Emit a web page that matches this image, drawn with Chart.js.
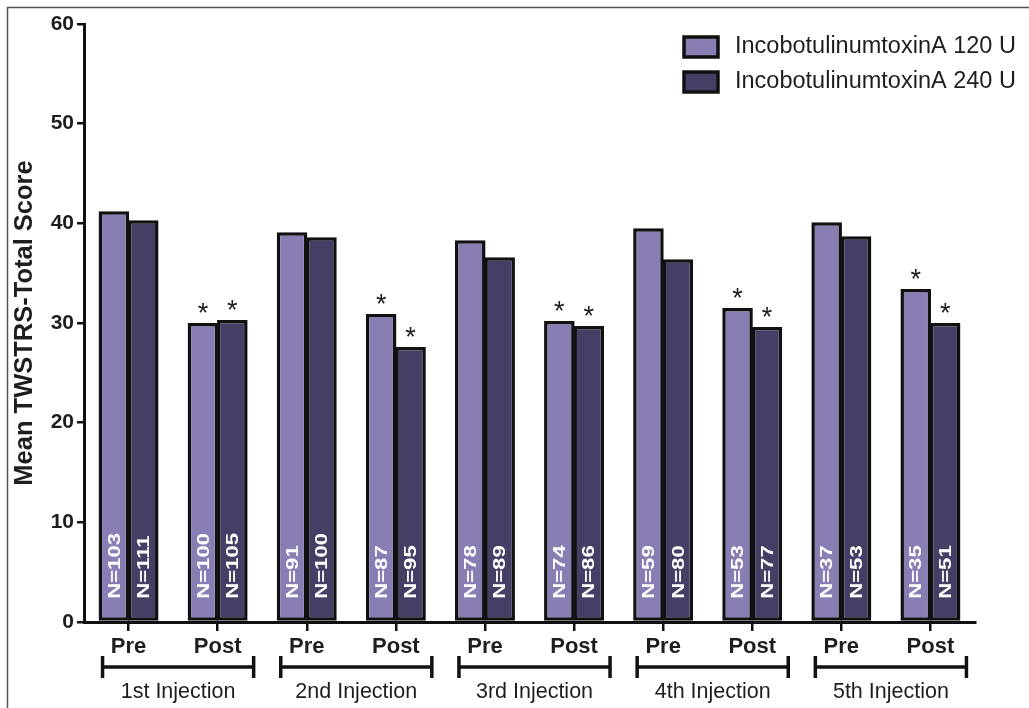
<!DOCTYPE html>
<html>
<head>
<meta charset="utf-8">
<script src="https://cdn.jsdelivr.net/npm/chart.js@4.4.1/dist/chart.umd.min.js"></script>
<style>
  html, body { margin: 0; padding: 0; background: #fff; }
  #wrap { width: 1029px; height: 708px; position: relative; }
</style>
</head>
<body>
<div id="wrap"><canvas id="chart"></canvas></div>
<script>
// Chart values
const timepoints = ['Pre', 'Post', 'Pre', 'Post', 'Pre', 'Post', 'Pre', 'Post', 'Pre', 'Post'];
const injections = ['1st Injection', '2nd Injection', '3rd Injection', '4th Injection', '5th Injection'];
const seriesNames = ['IncobotulinumtoxinA 120 U', 'IncobotulinumtoxinA 240 U'];
const score120 = [41.2, 30.0, 39.1, 30.9, 38.3, 30.2, 39.5, 31.5, 40.1, 33.4];
const score240 = [40.3, 30.3, 38.6, 27.6, 36.6, 29.7, 36.4, 29.6, 38.7, 30.0];
const n120 = [103, 100, 91, 87, 78, 74, 59, 53, 37, 35];
const n240 = [111, 105, 100, 95, 89, 86, 80, 77, 53, 51];
const signif120 = [false, true, false, true, false, true, false, true, false, true];
const signif240 = [false, true, false, true, false, true, false, true, false, true];
const yTicks = [0, 10, 20, 30, 40, 50, 60];

const lightColor = '#8a7db4';
const darkColor = '#463e64';
const inkColor = '#1e1e1e';
const fontFamily = '"Liberation Sans", Arial, sans-serif';

// Draws the N counts, asterisks, injection brackets, legend and image frame
const annotations = {
  id: 'annotations',
  afterDatasetsDraw(chart) {
    const { ctx } = chart;
    const counts = [n120, n240];
    const stars = [signif120, signif240];
    ctx.save();
    [0, 1].forEach((d) => {
      chart.getDatasetMeta(d).data.forEach((bar, i) => {
        // N label, rotated, inside the bar
        ctx.save();
        ctx.translate(bar.x, bar.base - 22);
        ctx.rotate(-Math.PI / 2);
        ctx.scale(1.3, 1);
        ctx.fillStyle = '#fff';
        ctx.font = 'bold 17px ' + fontFamily;
        ctx.textAlign = 'left';
        ctx.textBaseline = 'middle';
        ctx.fillText('N=' + counts[d][i], 0, 1);
        ctx.restore();
        // significance marker
        if (stars[d][i]) {
          ctx.fillStyle = inkColor;
          ctx.font = '27px ' + fontFamily;
          ctx.textAlign = 'center';
          ctx.textBaseline = 'alphabetic';
          ctx.fillText('*', bar.x, bar.y - 1);
        }
      });
    });
    ctx.restore();
  },
  afterDraw(chart) {
    const { ctx } = chart;
    const x = chart.scales.x;
    ctx.save();
    ctx.strokeStyle = '#111';
    ctx.lineWidth = 3.5;
    ctx.lineCap = 'butt';
    injections.forEach((name, g) => {
      const x0 = x.getPixelForValue(g * 2) - 26;
      const x1 = x.getPixelForValue(g * 2 + 1) + 36;
      ctx.beginPath();
      ctx.moveTo(x0, 667);
      ctx.lineTo(x1, 667);
      ctx.moveTo(x0, 656);
      ctx.lineTo(x0, 678);
      ctx.moveTo(x1, 656);
      ctx.lineTo(x1, 678);
      ctx.stroke();
      ctx.fillStyle = inkColor;
      ctx.font = '21.5px ' + fontFamily;
      ctx.textAlign = 'center';
      ctx.textBaseline = 'middle';
      ctx.fillText(name, (x0 + x1) / 2, 692);
    });

    // legend in the upper right corner
    const colors = [lightColor, darkColor];
    seriesNames.forEach((label, i) => {
      const top = 37 + i * 35;
      ctx.fillStyle = colors[i];
      ctx.fillRect(684, top, 34, 20);
      ctx.strokeStyle = '#111';
      ctx.lineWidth = 3.5;
      ctx.strokeRect(684, top, 34, 20);
      ctx.fillStyle = inkColor;
      ctx.font = '23.5px ' + fontFamily;
      ctx.textAlign = 'left';
      ctx.textBaseline = 'middle';
      ctx.fillText(label, 735, top + 10);
    });

    // frame of the original figure
    ctx.strokeStyle = '#555';
    ctx.lineWidth = 1.5;
    ctx.beginPath();
    ctx.moveTo(7.5, 708);
    ctx.lineTo(7.5, 7.5);
    ctx.lineTo(1029, 7.5);
    ctx.stroke();
    ctx.restore();
  },
};

const chart = new Chart(document.getElementById('chart'), {
  type: 'bar',
  data: {
    labels: timepoints,
    datasets: [
      {
        label: seriesNames[0],
        data: score120,
        backgroundColor: lightColor,
        borderColor: '#111',
        borderWidth: 3.5,
        borderSkipped: false,
      },
      {
        label: seriesNames[1],
        data: score240,
        backgroundColor: darkColor,
        borderColor: '#111',
        borderWidth: 3.5,
        borderSkipped: false,
      },
    ],
  },
  options: {
    responsive: true,
    maintainAspectRatio: false,
    animation: false,
    datasets: { bar: { categoryPercentage: 0.66, barPercentage: 1.04 } },
    layout: { padding: { left: 0, right: 54, top: 24, bottom: 0 } },
    plugins: {
      legend: { display: false },
      tooltip: { enabled: false },
    },
    scales: {
      x: {
        grid: { offset: false, drawOnChartArea: false, drawTicks: true, tickLength: 9, color: '#111', lineWidth: 2.5 },
        border: { color: '#111', width: 3 },
        ticks: {
          color: inkColor,
          padding: 3,
          maxRotation: 0,
          font: { family: fontFamily, size: 22, weight: 'bold' },
        },
        afterFit(scale) { scale.height = 86; },
      },
      y: {
        min: 0,
        max: 60,
        afterBuildTicks(scale) { scale.ticks = yTicks.map((v) => ({ value: v })); },
        grid: { drawOnChartArea: false, drawTicks: true, tickLength: 7, color: '#111', lineWidth: 2.5 },
        border: { color: '#111', width: 3 },
        ticks: {
          color: inkColor,
          padding: 3,
          font: { family: fontFamily, size: 21, weight: 'bold' },
        },
        title: {
          display: true,
          text: 'Mean TWSTRS-Total Score',
          color: inkColor,
          padding: { top: 10, bottom: 0 },
          font: { family: fontFamily, size: 25.5, weight: 'bold' },
        },
        afterFit(scale) { scale.width = 84; },
      },
    },
  },
  plugins: [annotations],
});
</script>
</body>
</html>
